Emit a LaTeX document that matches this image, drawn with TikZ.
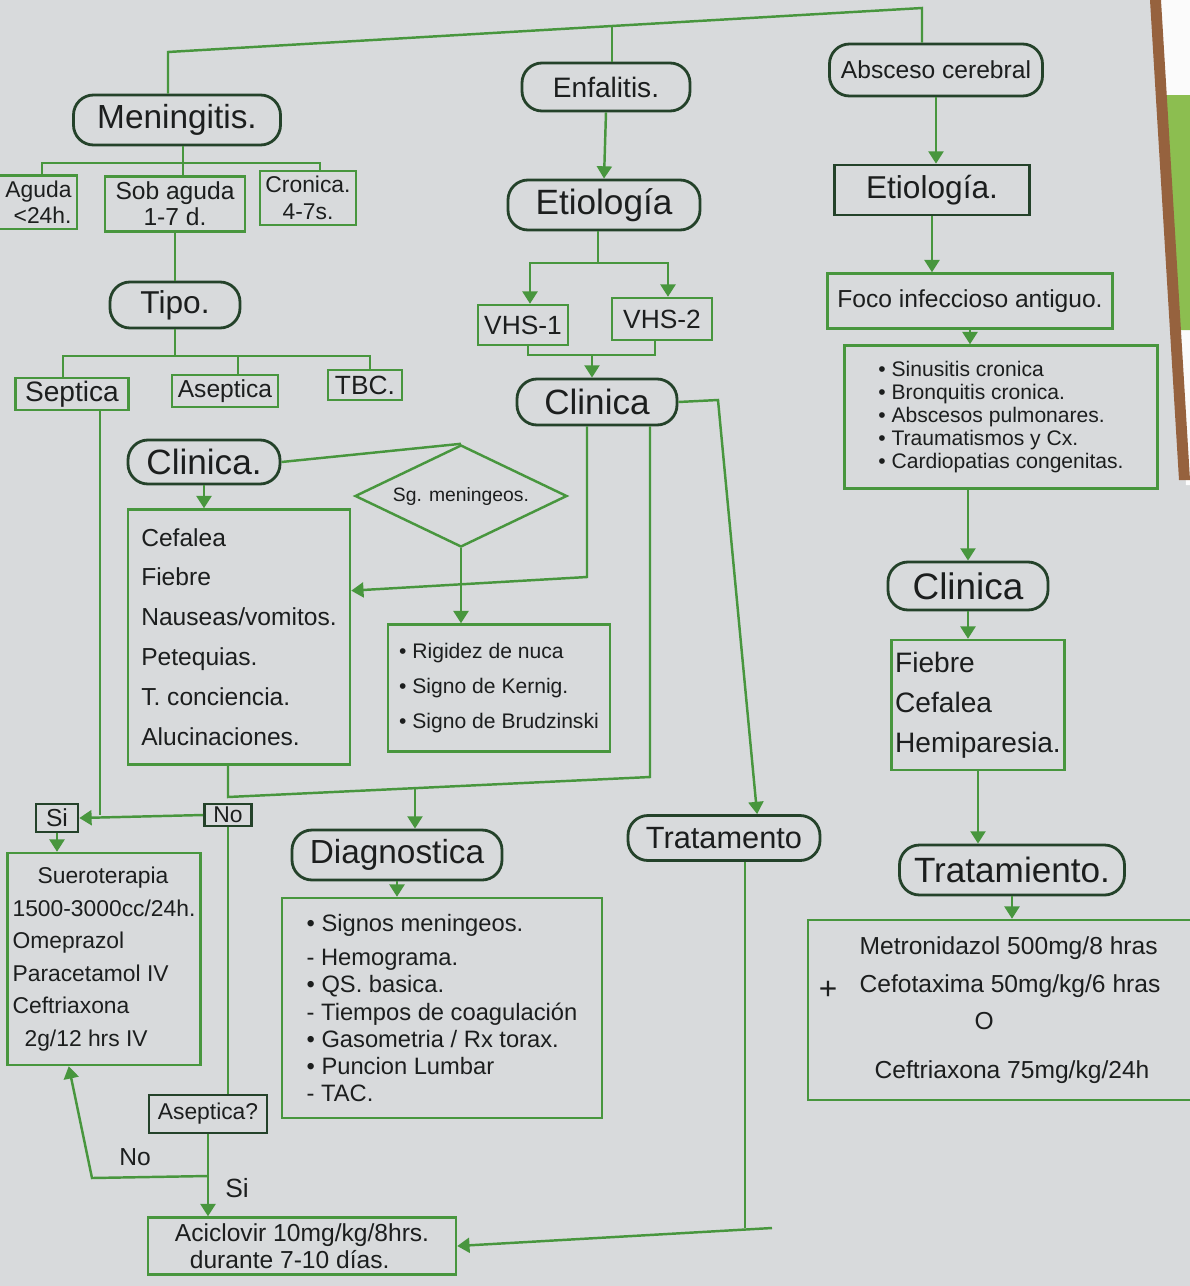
\documentclass[tikz,border=0pt]{standalone}
\usepackage{fontspec}
\setmainfont{Liberation Sans}
\usepackage{xcolor}
\usetikzlibrary{positioning,arrows.meta,shapes.geometric,calc}

\definecolor{paper}{RGB}{216,218,220}
\definecolor{inkgreen}{RGB}{72,150,62}
\definecolor{inkdark}{RGB}{36,66,42}
\definecolor{ink}{RGB}{28,30,30}
\definecolor{wood}{RGB}{150,98,62}
\definecolor{leaf}{RGB}{140,190,80}

\newdimen\pxu \pxu=0.02cm
\newcommand{\hw}[2]{\fontsize{#1}{#2}\selectfont}

\begin{document}
\begin{tikzpicture}[x=0.02cm, y=-0.02cm,
    head/.style={draw=inkdark, line width=1.6pt, rounded corners=0.4cm, inner sep=2pt, text=ink},
    gbox/.style={draw=inkgreen, line width=1.4pt, inner sep=3pt, text=ink},
    dbox/.style={draw=inkdark, line width=1.5pt, inner sep=2pt, text=ink},
    link/.style={draw=inkgreen, line width=1.4pt},
    arr/.style={link, -{Triangle[width=8.5pt,length=7pt]}},
    lbl/.style={text=ink, inner sep=1pt}]

                % Paper
                \fill[paper] (0,0) rectangle (1190,1286);
                \useasboundingbox (0,0) rectangle (1190,1286);
                \fill[white!90!paper] (1160,0) -- (1190,0) -- (1190,485) -- (1186,485) -- cycle;
                \fill[leaf] (1166,95) -- (1190,95) -- (1190,330) -- (1178,330) -- cycle;
                \fill[wood] (1150,0) -- (1161,0) -- (1190,480) -- (1179,480) -- cycle;

                % Nodes
                \node[head, minimum width=207\pxu, minimum height=50\pxu, font=\hw{19}{22}] (men) at (177,120) {Meningitis.};   % Meningitis
                \node[head, minimum width=168\pxu, minimum height=48\pxu, font=\hw{16}{19}] (enc) at (606,87) {Enfalitis.};     % Encefalitis
                \node[head, minimum width=213\pxu, minimum height=52\pxu, font=\hw{14}{17}] (abs) at (936,70) {Absceso cerebral}; % Absceso

                \node[gbox, anchor=east, text width=92\pxu, minimum height=52\pxu, align=right, font=\hw{13}{15}] (agu) at (78,202) {Aguda\\<24h.};
                \node[gbox, minimum width=140\pxu, minimum height=52\pxu, align=center, font=\hw{14}{15}] (sub) at (175,204) {Sob aguda\\1-7 d.};
                \node[gbox, minimum width=93\pxu, minimum height=52\pxu, align=center, font=\hw{13}{15}] (cro) at (308,198) {Cronica.\\4-7s.};

                \node[head, minimum width=130\pxu, minimum height=46\pxu, font=\hw{18}{20}] (tipo) at (175,305) {Tipo.};
                \node[gbox, minimum width=113\pxu, minimum height=32\pxu, inner sep=1pt, font=\hw{16}{18}] (sep) at (72,394) {Septica};
                \node[gbox, minimum width=106\pxu, minimum height=32\pxu, inner sep=1pt, font=\hw{14}{16}] (asep) at (225,391) {Aseptica};
                \node[gbox, minimum width=74\pxu, minimum height=30\pxu, inner sep=1pt, font=\hw{15}{17}] (tbc) at (365,385) {TBC.};

                \node[head, minimum width=152\pxu, minimum height=44\pxu, font=\hw{20}{22}] (clin1) at (204,462) {Clinica.};
                \node[gbox, minimum width=222\pxu, minimum height=255\pxu, align=left, font=\hw{14}{22.7}] (cef) at (239,637)
                    {Cefalea\\Fiebre\\Nauseas/vomitos.\\Petequias.\\T. conciencia.\\Alucinaciones.};
                \node[diamond, draw=inkgreen, line width=1.4pt, aspect=2, minimum width=212\pxu, minimum height=102\pxu,
                    inner sep=0pt, font=\hw{11}{13}, text=ink] (sg) at (461,496) {Sg. meningeos.};
                \node[gbox, minimum width=222\pxu, minimum height=127\pxu, align=left, font=\hw{12}{20}] (rig) at (499,688)
                    {• Rigidez de nuca\\• Signo de Kernig.\\• Signo de Brudzinski};

                \node[head, minimum width=192\pxu, minimum height=50\pxu, font=\hw{20}{22}] (eti1) at (604,205) {Etiología};
                \node[gbox, minimum width=90\pxu, minimum height=40\pxu, font=\hw{15}{17}] (vhs1) at (523,325) {VHS-1};
                \node[gbox, minimum width=100\pxu, minimum height=42\pxu, font=\hw{15}{17}] (vhs2) at (662,319) {VHS-2};
                \node[head, minimum width=160\pxu, minimum height=46\pxu, font=\hw{20}{22}] (clin2) at (597,402) {Clinica};

                \node[dbox, minimum width=42\pxu, minimum height=28\pxu, inner sep=1pt, font=\hw{14}{16}] (si) at (57,818) {Si};
                \node[dbox, minimum width=47\pxu, minimum height=22\pxu, inner sep=0.5pt, font=\hw{13}{14}] (no) at (228,815) {No};
                \node[gbox, minimum width=182\pxu, minimum height=212\pxu, align=left, font=\hw{13}{18.5}] (suero) at (104,959)
                    {\hspace*{25\pxu}Sueroterapia\\1500-3000cc/24h.\\Omeprazol\\Paracetamol IV\\Ceftriaxona\\\hspace*{12\pxu}2g/12 hrs IV};
                \node[dbox, minimum width=118\pxu, minimum height=38\pxu, font=\hw{13}{15}] (asq) at (208,1114) {Aseptica?};
                \node[gbox, minimum width=308\pxu, minimum height=57\pxu, align=left, font=\hw{14}{15.5}] (aci) at (302,1246)
                    {Aciclovir 10mg/kg/8hrs.\\\hspace*{15\pxu}durante 7-10 días.};
                \node[lbl, font=\hw{15}{17}] (lsi) at (237,1188) {Si};
                \node[lbl, font=\hw{14}{16}] (lno) at (135,1157) {No};

                \node[head, minimum width=210\pxu, minimum height=50\pxu, font=\hw{19}{21}] (diag) at (397,855) {Diagnostica};
                \node[gbox, minimum width=320\pxu, minimum height=220\pxu, align=left, font=\hw{13.5}{15.5}] (dlist) at (442,1008)
                    {• Signos meningeos.\\[4pt]- Hemograma.\\• QS. basica.\\- Tiempos de coagulación\\• Gasometria / Rx torax.\\• Puncion Lumbar\\- TAC.};
                \node[head, minimum width=192\pxu, minimum height=45\pxu, font=\hw{17.5}{20}] (trat1) at (724,838) {Tratamento};

                \node[dbox, minimum width=195\pxu, minimum height=50\pxu, font=\hw{18}{20}] (eti2) at (932,190) {Etiología.};
                \node[gbox, minimum width=285\pxu, minimum height=55\pxu, font=\hw{14}{16}] (foco) at (970,301) {Foco infeccioso antiguo.};
                \node[gbox, minimum width=313\pxu, minimum height=143\pxu, align=left, font=\hw{12}{13}] (alist) at (1001,417)
                    {• Sinusitis cronica\\• Bronquitis cronica.\\• Abscesos pulmonares.\\• Traumatismos y Cx.\\• Cardiopatias congenitas.};
                \node[head, minimum width=160\pxu, minimum height=48\pxu, font=\hw{21}{23}] (clin3) at (968,586) {Clinica};
                \node[gbox, minimum width=172\pxu, minimum height=130\pxu, inner xsep=2pt, align=left, font=\hw{16}{22.7}] (fieb) at (978,705)
                    {Fiebre\\Cefalea\\Hemiparesia.};
                \node[head, minimum width=225\pxu, minimum height=50\pxu, font=\hw{20}{22}] (trat2) at (1012,870) {Tratamiento.};
                \node[gbox, minimum width=404\pxu, minimum height=180\pxu, align=left, font=\hw{14}{21.5}] (tlist) at (1010,1010)
                    {Metronidazol 500mg/8 hras\\Cefotaxima 50mg/kg/6 hras\\\hspace*{115\pxu}O\\[6pt]\hspace*{15\pxu}Ceftriaxona 75mg/kg/24h};
                \node[lbl, font=\hw{18}{20}] (plus) at (828,990) {+};

                % Junction points
                \coordinate (busL) at (168,52);
                \coordinate (busM) at (612,26);
                \coordinate (busR) at (922,8);
                \coordinate (mbar) at (183,163);
                \coordinate (mb1) at (42,163);
                \coordinate (mb3) at (320,163);
                \coordinate (tb1) at (63,356);
                \coordinate (tb2) at (238,356);
                \coordinate (tb3) at (370,356);
                \coordinate (sj) at (100,815);
                \coordinate (aj) at (208,1176);
                \coordinate (ak) at (92,1178);
                \coordinate (eb) at (598,263);
                \coordinate (eb1) at (530,263);
                \coordinate (eb2) at (668,263);
                \coordinate (vb1) at (528,355);
                \coordinate (vb) at (592,355);
                \coordinate (vb2) at (655,355);
                \coordinate (c2a) at (587,577);
                \coordinate (c2b) at (650,777);
                \coordinate (bk) at (228,797);
                \coordinate (bd) at (415,788);
                \coordinate (c2c) at (718,400);
                \coordinate (tj) at (745,1228);
                \coordinate (tk) at (772,1228);

                % Edges for meningitis
                \draw[link] (men.north -| busL) -- (busL) -- (busM) -- (busR) -- (abs.north -| busR);
                \draw[link] (busM) -- (enc.north -| busM);
                \draw[link] (men.south -| mbar) -- (mbar);
                \draw[link] (mb1 |- agu.north) -- (mb1) -- (mb3) -- (mb3 |- cro.north);
                \draw[link] (mbar) -- (mbar |- sub.north);
                \draw[link] (sub.south) -- (tipo.north);
                \draw[link] (tipo.south) -- (tipo.south |- tb1);
                \draw[link] (tb1 |- sep.north) -- (tb1) -- (tb3) -- (tb3 |- tbc.north);
                \draw[link] (tb2) -- (tb2 |- asep.north);
                \draw[link] (sep.south -| sj) -- (sj);
                \draw[arr] (no.west) -- (si.east);
                \draw[arr] (si.south) -- (si.south |- suero.north);
                \draw[link] (no.south) -- (no.south |- asq.north);
                \draw[arr] (asq.south) -- (asq.south |- aci.north);
                \draw[arr] (aj) -- (ak) -- ($(suero.south west)!0.32!(suero.south east)$);
                \draw[arr] (clin1.south) -- (clin1.south |- cef.north);
                \draw[link] (clin1.east) -- (sg.north);
                \draw[arr] (sg.south) -- (sg.south |- rig.north);

                % Edges for encefalitis
                \draw[arr] (enc.south) -- (eti1.north);
                \draw[link] (eti1.south -| eb) -- (eb);
                \draw[arr] (eb) -- (eb1) -- (eb1 |- vhs1.north);
                \draw[arr] (eb) -- (eb2) -- (eb2 |- vhs2.north);
                \draw[link] (vb1 |- vhs1.south) -- (vb1) -- (vb2) -- (vb2 |- vhs2.south);
                \draw[arr] (vb) -- (vb |- clin2.north);
                \draw[arr] (c2a |- clin2.south) -- (c2a) -- ($(cef.north east)!0.32!(cef.south east)$);
                \draw[link] (c2b |- clin2.south) -- (c2b) -- (bk) -- (bk |- cef.south);
                \draw[arr] (bd) -- (bd |- diag.north);
                \draw[arr] (clin2.east) -- (c2c) -- ($(trat1.north west)!0.67!(trat1.north east)$);
                \draw[arr] (diag.south) -- (diag.south |- dlist.north);
                \draw[link] (trat1.south -| tj) -- (tj);
                \draw[arr] (tk) -- (aci.east);

                % Edges for absceso
                \draw[arr] (abs.south) -- (abs.south |- eti2.north);
                \draw[arr] (eti2.south) -- (eti2.south |- foco.north);
                \draw[arr] (foco.south) -- (foco.south |- alist.north);
                \draw[arr] (clin3.north |- alist.south) -- (clin3.north);
                \draw[arr] (clin3.south) -- (clin3.south |- fieb.north);
                \draw[arr] (fieb.south) -- (fieb.south |- trat2.north);
                \draw[arr] (trat2.south) -- (trat2.south |- tlist.north);
            \end{tikzpicture}
\end{document}
